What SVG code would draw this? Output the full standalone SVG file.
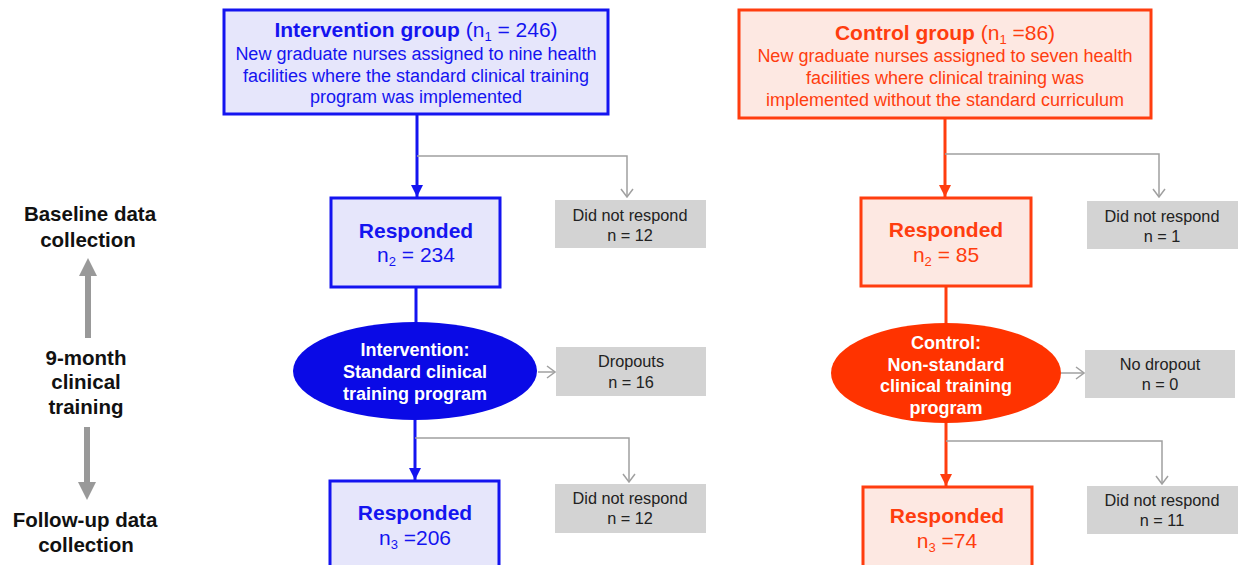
<svg xmlns="http://www.w3.org/2000/svg" width="1238" height="565" viewBox="0 0 1238 565">
<style>
text{font-family:"Liberation Sans",Arial,sans-serif;text-anchor:middle}
.b{font-weight:bold}
.blue{fill:#1414f0}
.org{fill:#ff3d0f}
.wh{fill:#ffffff;font-weight:bold;font-size:18px}
.bbox{fill:#e6e6fb;stroke:#1414f0;stroke-width:3}
.obox{fill:#fde8e2;stroke:#ff3d0f;stroke-width:3}
.gbox{fill:#d3d3d3}
.gt{fill:#222;font-size:16.3px}
.t18{font-size:18px}
.t21{font-size:21px}
.lbl{fill:#111;font-size:20.5px;font-weight:bold}
.bl{stroke:#1414f0;stroke-width:3;fill:none}
.ol{stroke:#ff3d0f;stroke-width:3;fill:none}
.gl{stroke:#a0a0a0;stroke-width:1.5;fill:none}
</style>
<defs>
<marker id="ab" markerUnits="userSpaceOnUse" markerWidth="12" markerHeight="12" refX="10" refY="5" orient="auto" viewBox="0 0 10 10"><path d="M0,0 L10,5 L0,10 Z" fill="#1414f0"/></marker>
<marker id="ao" markerUnits="userSpaceOnUse" markerWidth="12" markerHeight="12" refX="10" refY="5" orient="auto" viewBox="0 0 10 10"><path d="M0,0 L10,5 L0,10 Z" fill="#ff3d0f"/></marker>
<marker id="ag" markerUnits="userSpaceOnUse" markerWidth="10" markerHeight="14" refX="9" refY="7" orient="auto" viewBox="0 0 10 14"><path d="M1,1 L9,7 L1,13" fill="none" stroke="#a0a0a0" stroke-width="1.5"/></marker>
</defs>

<g id="connectors">
<line class="bl" x1="417" y1="115" x2="417" y2="197" marker-end="url(#ab)"/>
<line class="bl" x1="416" y1="287" x2="416" y2="323"/>
<line class="bl" x1="415" y1="419" x2="415" y2="480" marker-end="url(#ab)"/>
<path class="gl" d="M417,156 H627 V197" marker-end="url(#ag)"/>
<line class="gl" x1="538" y1="372" x2="555" y2="372" marker-end="url(#ag)"/>
<path class="gl" d="M415,438 H629 V482" marker-end="url(#ag)"/>

<line class="ol" x1="945" y1="118" x2="945" y2="197" marker-end="url(#ao)"/>
<line class="ol" x1="946" y1="286" x2="946" y2="324"/>
<line class="ol" x1="946" y1="422" x2="946" y2="486" marker-end="url(#ao)"/>
<path class="gl" d="M945,154 H1159 V197" marker-end="url(#ag)"/>
<line class="gl" x1="1061" y1="373" x2="1084" y2="373" marker-end="url(#ag)"/>
<path class="gl" d="M946,441 H1162 V484" marker-end="url(#ag)"/>

<polygon fill="#999999" points="85,338 91,338 91,276 97,276 88,258 79,276 85,276"/>
<polygon fill="#999999" points="84,427 90,427 90,482 96,482 87,500 78,482 84,482"/>
</g>

<g id="labels-left">
<text class="lbl" x="90" y="221">Baseline data</text>
<text class="lbl" x="88" y="247">collection</text>
<text class="lbl" x="86" y="365">9-month</text>
<text class="lbl" x="86" y="389">clinical</text>
<text class="lbl" x="86" y="414">training</text>
<text class="lbl" x="85" y="527">Follow-up data</text>
<text class="lbl" x="86" y="552">collection</text>
</g>

<g id="intervention-group">
<rect class="bbox" x="224" y="10" width="384" height="104"/>
<text class="blue" x="416" y="37" font-size="21"><tspan class="b">Intervention group </tspan><tspan>(n</tspan><tspan font-size="13" dy="4">1</tspan><tspan dy="-4"> = 246)</tspan></text>
<text class="blue t18" x="416" y="60">New graduate nurses assigned to nine health</text>
<text class="blue t18" x="416" y="82">facilities where the standard clinical training</text>
<text class="blue t18" x="416" y="103">program was implemented</text>
</g>

<g id="intervention-responded1">
<rect class="bbox" x="331" y="198" width="169" height="89"/>
<text class="blue t21 b" x="416" y="238">Responded</text>
<text class="blue t21" x="416" y="262"><tspan>n</tspan><tspan font-size="13" dy="4">2</tspan><tspan dy="-4"> = 234</tspan></text>
</g>

<g id="intervention-nr1">
<rect class="gbox" x="555" y="200" width="151" height="48"/>
<text class="gt" x="630" y="221">Did not respond</text>
<text class="gt" x="630" y="241">n = 12</text>
</g>

<g id="intervention-program">
<ellipse cx="415" cy="371" rx="122" ry="49" fill="#0a0ae6"/>
<text class="wh" x="415" y="356">Intervention:</text>
<text class="wh" x="415" y="378">Standard clinical</text>
<text class="wh" x="415" y="400">training program</text>
</g>

<g id="intervention-dropouts">
<rect class="gbox" x="556" y="347" width="150" height="49"/>
<text class="gt" x="631" y="367">Dropouts</text>
<text class="gt" x="631" y="388">n = 16</text>
</g>

<g id="intervention-responded2">
<rect class="bbox" x="330" y="481" width="169" height="95"/>
<text class="blue t21 b" x="415" y="520">Responded</text>
<text class="blue t21" x="415" y="545"><tspan>n</tspan><tspan font-size="13" dy="4">3</tspan><tspan dy="-4"> =206</tspan></text>
</g>

<g id="intervention-nr2">
<rect class="gbox" x="555" y="484" width="151" height="49"/>
<text class="gt" x="630" y="504">Did not respond</text>
<text class="gt" x="630" y="524">n = 12</text>
</g>

<g id="control-group">
<rect class="obox" x="739" y="10" width="412" height="108"/>
<text class="org" x="945" y="40" font-size="21"><tspan class="b">Control group </tspan><tspan>(n</tspan><tspan font-size="13" dy="4">1</tspan><tspan dy="-4"> =86)</tspan></text>
<text class="org t18" x="945" y="62">New graduate nurses assigned to seven health</text>
<text class="org t18" x="945" y="84">facilities  where clinical training was</text>
<text class="org t18" x="945" y="106">implemented without the standard curriculum</text>
</g>

<g id="control-responded1">
<rect class="obox" x="861" y="198" width="170" height="88"/>
<text class="org t21 b" x="946" y="237">Responded</text>
<text class="org t21" x="946" y="262"><tspan>n</tspan><tspan font-size="13" dy="4">2</tspan><tspan dy="-4"> = 85</tspan></text>
</g>

<g id="control-nr1">
<rect class="gbox" x="1087" y="201" width="151" height="48"/>
<text class="gt" x="1162" y="222">Did not respond</text>
<text class="gt" x="1162" y="242">n = 1</text>
</g>

<g id="control-program">
<ellipse cx="946" cy="373" rx="115" ry="50" fill="#ff3300"/>
<text class="wh" x="946" y="349">Control:</text>
<text class="wh" x="946" y="371">Non-standard</text>
<text class="wh" x="946" y="392">clinical training</text>
<text class="wh" x="946" y="414">program</text>
</g>

<g id="control-dropouts">
<rect class="gbox" x="1085" y="350" width="150" height="48"/>
<text class="gt" x="1160" y="370">No dropout</text>
<text class="gt" x="1160" y="390">n = 0</text>
</g>

<g id="control-responded2">
<rect class="obox" x="863" y="487" width="169" height="90"/>
<text class="org t21 b" x="947" y="523">Responded</text>
<text class="org t21" x="947" y="548"><tspan>n</tspan><tspan font-size="13" dy="4">3</tspan><tspan dy="-4"> =74</tspan></text>
</g>

<g id="control-nr2">
<rect class="gbox" x="1087" y="486" width="151" height="48"/>
<text class="gt" x="1162" y="506">Did not respond</text>
<text class="gt" x="1162" y="526">n = 11</text>
</g>
</svg>
